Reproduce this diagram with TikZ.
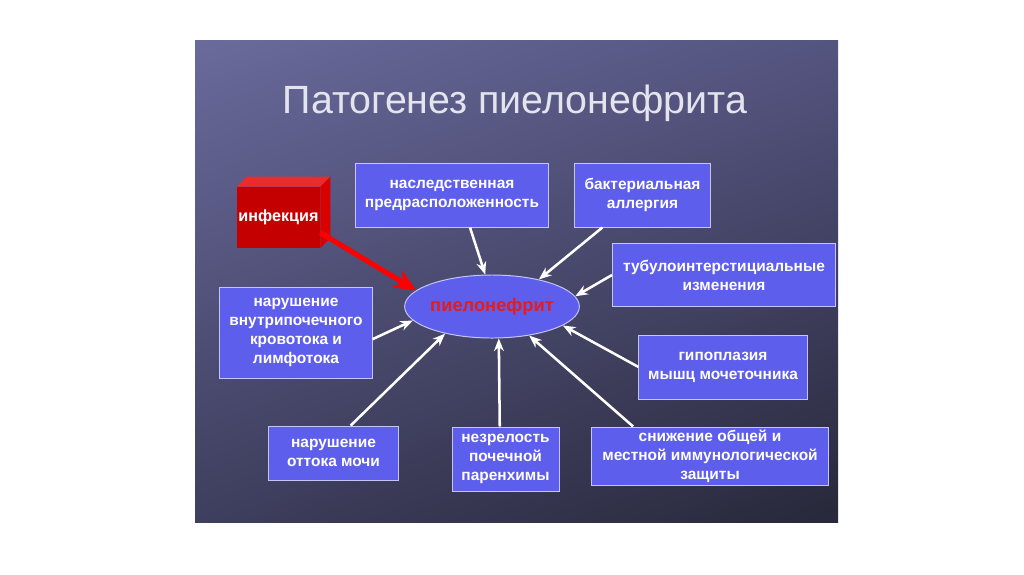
\documentclass[tikz,border=0pt]{standalone}
\usepackage{fontspec}
\setmainfont{Liberation Sans}
\usetikzlibrary{arrows.meta, shapes.geometric, shadings, calc}
\definecolor{slidetl}{RGB}{106,106,156}
\definecolor{slidetr}{RGB}{84,84,128}
\definecolor{slidebl}{RGB}{62,62,94}
\definecolor{slidebr}{RGB}{40,40,58}
\definecolor{titlegray}{RGB}{228,228,238}
\definecolor{boxblue}{RGB}{94,94,236}
\definecolor{boxline}{RGB}{196,196,255}
\definecolor{redfront}{RGB}{196,0,0}
\definecolor{redtop}{RGB}{236,44,44}
\definecolor{redside}{RGB}{218,0,0}
\definecolor{diseasered}{RGB}{228,28,28}

\begin{document}
\begin{tikzpicture}[x=0.025cm, y=-0.025cm,
    factor/.style={draw=boxline, line width=0.7pt, fill=boxblue, text=white,
        font=\fontsize{11}{13.5}\selectfont\bfseries, align=center, inner sep=0pt},
    cause/.style={draw=white, line width=1.8pt, -{Stealth[length=9pt, width=7pt]}}]

    % фон слайда
    \fill[white] (0,0) rectangle (1024,574);
    \useasboundingbox (0,0) rectangle (1024,574);
    \shade[upper left=slidetl, upper right=slidetr, lower left=slidebl, lower right=slidebr]
        (195,40) rectangle (838,522);

    % заголовок
    \node[text=titlegray, font=\fontsize{28}{34}\selectfont] (title) at (515,103) {Патогенез пиелонефрита};

    % центр
    \node[ellipse, draw=boxline, line width=0.7pt, fill=boxblue, minimum width=3.35cm, minimum height=1.575cm,
        inner sep=0pt, text=diseasered, font=\fontsize{13}{15}\selectfont\bfseries] (pelo) at (492,306.5) {пиелонефрит};

    % факторы
    \node[factor, minimum width=4.8cm, minimum height=1.6cm] (nasl) at (452,195) {наследственная\\предрасположенность};
    \node[factor, minimum width=3.375cm, minimum height=1.6cm] (bakt) at (642.5,195) {бактериальная\\аллергия};
    \node[factor, minimum width=5.575cm, minimum height=1.575cm] (tubulo) at (724,275) {тубулоинтерстициальные\\изменения};
    \node[factor, minimum width=4.2cm, minimum height=1.6cm] (gipo) at (723,367) {гипоплазия\\мышц мочеточника};
    \node[factor, minimum width=5.9cm, minimum height=1.45cm] (snizh) at (710,456) {снижение общей и\\местной иммунологической\\защиты};
    \node[factor, minimum width=2.675cm, minimum height=1.6cm] (nezrel) at (505.5,459) {незрелость\\почечной\\паренхимы};
    \node[factor, minimum width=3.225cm, minimum height=1.35cm] (ottok) at (333.5,453) {нарушение\\оттока мочи};
    \node[factor, minimum width=3.8cm, minimum height=2.275cm] (krov) at (296,332.5) {нарушение\\внутрипочечного\\кровотока и\\лимфотока};

    % инфекция (куб)
    \node[fill=redfront, minimum width=2.075cm, minimum height=1.525cm, inner sep=0pt, text=white,
        font=\fontsize{11.5}{14}\selectfont\bfseries] (infect) at (278.5,217.5) {инфекция};
    \fill[redtop] (infect.north west) -- ++(10,-10) -- ++(83,0) -- (infect.north east) -- cycle;
    \fill[redside] (infect.north east) -- ++(10,-10) -- ++(0,61) -- (infect.south east) -- cycle;

    % стрелки
    \draw[draw=red, line width=3.6pt, -{Stealth[length=16pt, width=14pt]}] (infect.-20) -- (pelo.168);
    \draw[cause] (nasl.-61) -- (pelo.102);
    \draw[cause] (bakt.219) -- (pelo.30);
    \draw[cause] (tubulo.west) -- (pelo.7);
    \draw[cause] (gipo.west) -- (pelo.-15);
    \draw[cause] (snizh.159) -- (pelo.-38);
    \draw[cause] (nezrel.100) -- (pelo.-78);
    \draw[cause] (ottok.58) -- (pelo.-150);
    \draw[cause] (krov.-5) -- (pelo.190);
\end{tikzpicture}
\end{document}
